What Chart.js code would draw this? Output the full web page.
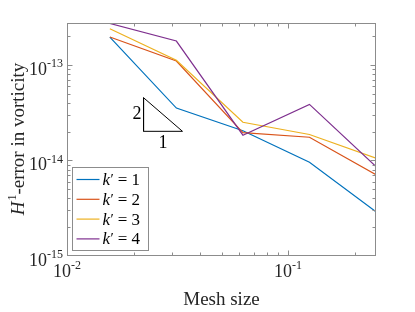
<!DOCTYPE html>
<html>
<head>
<meta charset="utf-8">
<script src="https://cdn.jsdelivr.net/npm/chart.js@4/dist/chart.umd.min.js"></script>
<style>
  html, body { margin: 0; padding: 0; background: #fff; }
  #wrap { width: 415px; height: 312px; }
</style>
</head>
<body>
<div id="wrap"><canvas id="c" width="415" height="312"></canvas></div>
<script>
// ---- data ----
const meshSizes = [0.015625, 0.03125, 0.0625, 0.125, 0.25];
const seriesLabels = ['1', '2', '3', '4'];
const errK1 = [1.96e-13, 3.54e-14, 2.05e-14, 9.6e-15, 2.9e-15];
const errK2 = [1.96e-13, 1.10e-13, 1.96e-14, 1.75e-14, 7.1e-15];
const errK3 = [2.39e-13, 1.12e-13, 2.51e-14, 1.87e-14, 1.06e-14];
const errK4 = [2.72e-13, 1.78e-13, 1.84e-14, 3.87e-14, 8.66e-15];
const seriesColors = ['#0072BD', '#D95319', '#EDB120', '#7E2F8E'];
// slope triangle (data coordinates)
const triX = [0.0222, 0.0222, 0.0333, 0.0222];
const triY = [4.54e-14, 2.02e-14, 2.02e-14, 4.54e-14];
const triLabelRise = '2';
const triLabelRun = '1';
// axes
const xRange = [0.01, 0.25];
const yRange = [1e-15, 2.75e-13];
const xTickValues = [1e-2, 1e-1];
const xTickExps = ['-2', '-1'];
const yTickValues = [1e-15, 1e-14, 1e-13];
const yTickExps = ['-15', '-14', '-13'];
const xTitle = 'Mesh size';
const yTitleMain = 'H';
const yTitleSup = '1';
const yTitleRest = '-error in vorticity';

const SERIF = '"Liberation Serif", "Times New Roman", serif';
const AXIS_COLOR = '#8c8c8c';

const toPts = (xs, ys) => xs.map((v, i) => ({x: v, y: ys[i]}));
const allSeries = [errK1, errK2, errK3, errK4];

const datasets = allSeries.map((vals, i) => ({
  label: "k' = " + seriesLabels[i],
  data: toPts(meshSizes, vals),
  borderColor: seriesColors[i],
  backgroundColor: seriesColors[i],
  borderWidth: 1.2,
  pointRadius: 0,
  fill: false,
  tension: 0,
  order: 4 - i
}));
datasets.push({
  label: 'triangle',
  data: toPts(triX, triY),
  borderColor: '#000',
  borderWidth: 1,
  pointRadius: 0,
  fill: false,
  tension: 0,
  order: 0
});

function minorTicks(lo, hi) {
  const out = [];
  for (let e = Math.floor(Math.log10(lo)); e <= Math.ceil(Math.log10(hi)); e++) {
    for (let m = 1; m <= 9; m++) {
      const v = m * Math.pow(10, e);
      if (v > lo * 1.0001 && v < hi * 0.9999) out.push({v, major: m === 1});
    }
  }
  return out;
}

function drawPow(ctx, base, exp, x, yBase, align, baseSize, supSize) {
  ctx.font = baseSize + 'px ' + SERIF;
  const wb = ctx.measureText(base).width;
  ctx.font = supSize + 'px ' + SERIF;
  const we = ctx.measureText(exp).width;
  const total = wb + we;
  let x0 = align === 'right' ? x - total : x - total / 2;
  ctx.textAlign = 'left';
  ctx.textBaseline = 'alphabetic';
  ctx.font = baseSize + 'px ' + SERIF;
  ctx.fillText(base, x0, yBase);
  ctx.font = supSize + 'px ' + SERIF;
  ctx.fillText(exp, x0 + wb, yBase - baseSize * 0.42);
}

const matlabAxes = {
  id: 'matlabAxes',
  afterDatasetsDraw(chart) {
    const {ctx, chartArea: a, scales: {x, y}} = chart;
    ctx.save();
    ctx.strokeStyle = AXIS_COLOR;
    ctx.lineWidth = 1;
    const L = Math.round(a.left) + 0.5, R = Math.round(a.right) - 0.5;
    const T = Math.round(a.top) + 0.5, B = Math.round(a.bottom) - 0.5;
    ctx.beginPath();
    // x ticks
    minorTicks(xRange[0], xRange[1]).forEach(t => {
      const px = Math.round(x.getPixelForValue(t.v)) + 0.5;
      const len = t.major ? 5 : 3;
      ctx.moveTo(px, B); ctx.lineTo(px, B - len);
      ctx.moveTo(px, T); ctx.lineTo(px, T + len);
    });
    minorTicks(yRange[0], yRange[1]).forEach(t => {
      const py = Math.round(y.getPixelForValue(t.v)) + 0.5;
      const len = t.major ? 5 : 3;
      ctx.moveTo(L, py); ctx.lineTo(L + len, py);
      ctx.moveTo(R, py); ctx.lineTo(R - len, py);
    });
    ctx.stroke();
    ctx.strokeRect(L, T, R - L, B - T);

    // tick labels
    ctx.fillStyle = '#262626';
    xTickValues.forEach((v, i) => {
      const px = x.getPixelForValue(v);
      drawPow(ctx, '10', xTickExps[i], px, a.bottom + 21, 'center', 18, 12);
    });
    yTickValues.forEach((v, i) => {
      const py = y.getPixelForValue(v);
      drawPow(ctx, '10', yTickExps[i], a.left - 4, py + 10, 'right', 18, 12);
    });

    // x title
    ctx.font = '19px ' + SERIF;
    ctx.textAlign = 'center';
    ctx.textBaseline = 'alphabetic';
    ctx.fillText(xTitle, (a.left + a.right) / 2, 305);

    // y title
    ctx.save();
    ctx.translate(24, (a.top + a.bottom) / 2);
    ctx.rotate(-Math.PI / 2);
    ctx.font = 'italic 19px ' + SERIF;
    const w1 = ctx.measureText(yTitleMain).width;
    ctx.font = '12px ' + SERIF;
    const w2 = ctx.measureText(yTitleSup).width;
    ctx.font = '19px ' + SERIF;
    const w3 = ctx.measureText(yTitleRest).width;
    let sx = -(w1 + w2 + w3) / 2;
    ctx.textAlign = 'left';
    ctx.font = 'italic 19px ' + SERIF;
    ctx.fillText(yTitleMain, sx, 0); sx += w1 + 1;
    ctx.font = '12px ' + SERIF;
    ctx.fillText(yTitleSup, sx, -8); sx += w2;
    ctx.font = '19px ' + SERIF;
    ctx.fillText(yTitleRest, sx, 0);
    ctx.restore();

    // triangle labels
    ctx.fillStyle = '#000';
    ctx.font = '18px ' + SERIF;
    ctx.textAlign = 'right';
    ctx.textBaseline = 'middle';
    const tx0 = x.getPixelForValue(triX[0]);
    const tyMid = (y.getPixelForValue(triY[0]) + y.getPixelForValue(triY[1])) / 2;
    ctx.fillText(triLabelRise, tx0 - 2, tyMid);
    ctx.textAlign = 'center';
    ctx.textBaseline = 'top';
    const txMid = (x.getPixelForValue(triX[1]) + x.getPixelForValue(triX[2])) / 2;
    ctx.fillText(triLabelRun, txMid, y.getPixelForValue(triY[1]) + 3);

    // legend
    const bx = Math.round(a.left) + 5.5, bw = 76, bh = 83;
    const by = Math.round(a.bottom) - 5.5 - bh;
    ctx.fillStyle = '#fff';
    ctx.fillRect(bx, by, bw, bh);
    ctx.strokeStyle = AXIS_COLOR;
    ctx.strokeRect(bx, by, bw, bh);
    seriesLabels.forEach((lab, i) => {
      const cy = by + 12 + i * 19.8;
      ctx.strokeStyle = seriesColors[i];
      ctx.lineWidth = 1.2;
      ctx.beginPath();
      ctx.moveTo(bx + 4, cy); ctx.lineTo(bx + 27, cy);
      ctx.stroke();
      ctx.fillStyle = '#000';
      ctx.textAlign = 'left';
      ctx.textBaseline = 'alphabetic';
      let tx = bx + 30;
      const base = cy + 5.5;
      ctx.font = 'italic 17px ' + SERIF;
      ctx.fillText('k', tx, base);
      tx += ctx.measureText('k').width + 0.5;
      ctx.font = '15px ' + SERIF;
      ctx.fillText('\u2032', tx, base - 1);
      tx += ctx.measureText('\u2032').width + 4;
      ctx.font = '17px ' + SERIF;
      ctx.fillText('=', tx, base);
      tx += ctx.measureText('=').width + 4;
      ctx.fillText(lab, tx, base);
    });
    ctx.restore();
  }
};

new Chart(document.getElementById('c'), {
  type: 'line',
  data: { datasets },
  options: {
    responsive: false,
    animation: false,
    devicePixelRatio: 1,
    layout: { padding: { left: 67, right: 39, top: 23, bottom: 56 } },
    plugins: { legend: { display: false }, tooltip: { enabled: false } },
    scales: {
      x: { type: 'logarithmic', min: xRange[0], max: xRange[1], display: false },
      y: { type: 'logarithmic', min: yRange[0], max: yRange[1], display: false }
    }
  },
  plugins: [matlabAxes]
});
</script>
</body>
</html>
